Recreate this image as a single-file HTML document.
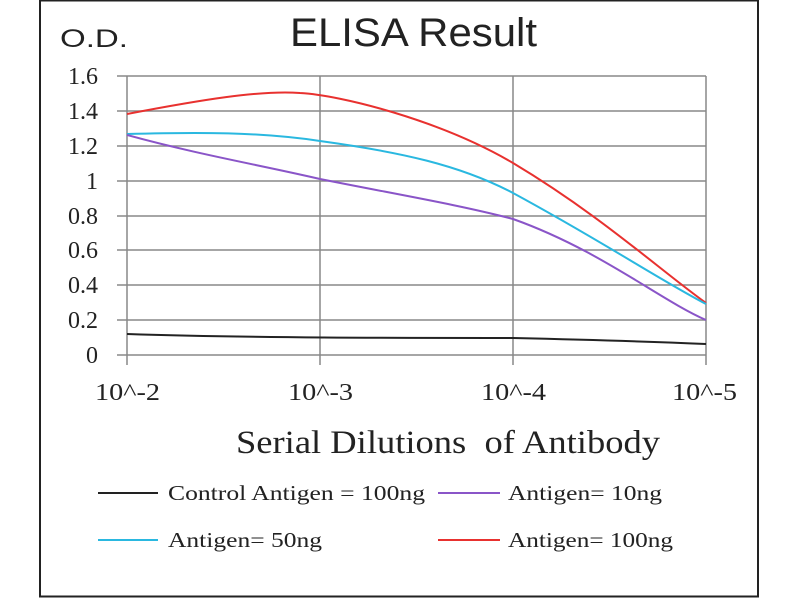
<!DOCTYPE html><html><head><style>body{margin:0;background:#fff}</style></head><body>
<svg width="800" height="600" xmlns="http://www.w3.org/2000/svg">
<rect x="40" y="0.5" width="718" height="596" fill="#fff" stroke="#222" stroke-width="2"/>
<g stroke="#888" stroke-width="1.5">
<line x1="117" y1="76" x2="706" y2="76"/><line x1="117" y1="111" x2="706" y2="111"/>
<line x1="117" y1="146" x2="706" y2="146"/><line x1="117" y1="181" x2="706" y2="181"/>
<line x1="117" y1="216" x2="706" y2="216"/><line x1="117" y1="250" x2="706" y2="250"/>
<line x1="117" y1="285" x2="706" y2="285"/><line x1="117" y1="320" x2="706" y2="320"/>
<line x1="117" y1="355" x2="706" y2="355"/>
<line x1="127" y1="76" x2="127" y2="365"/><line x1="320" y1="76" x2="320" y2="365"/>
<line x1="513" y1="76" x2="513" y2="365"/><line x1="706" y1="76" x2="706" y2="365"/>
</g>
<g fill="none" stroke-width="2">
<path d="M127,114 C200,100 260,90 300,93 C340,95 440,120 513,163 C600,215 660,270 706,303" stroke="#e8312f"/>
<path d="M127,134 C200,132 260,132 320,141 C400,152 460,165 513,193 C600,240 660,280 706,304" stroke="#2ab8e0"/>
<path d="M127,135 C200,155 260,165 320,179 C400,195 460,205 513,219 C600,250 660,300 706,320" stroke="#8a55c8"/>
<path d="M127,334 C250,338 400,338 513,338 C600,340 660,342 706,344" stroke="#222"/>
</g>
<g font-family="Liberation Serif,serif" font-size="24" fill="#222" text-anchor="end">
<text x="98" y="84">1.6</text><text x="98" y="119">1.4</text><text x="98" y="154">1.2</text>
<text x="98" y="189">1</text><text x="98" y="224">0.8</text><text x="98" y="258">0.6</text>
<text x="98" y="293">0.4</text><text x="98" y="328">0.2</text><text x="98" y="363">0</text>
</g>
<g font-family="Liberation Serif,serif" font-size="24" fill="#222" lengthAdjust="spacingAndGlyphs">
<text x="95" y="400" textLength="65" lengthAdjust="spacingAndGlyphs">10^-2</text>
<text x="288" y="400" textLength="65" lengthAdjust="spacingAndGlyphs">10^-3</text>
<text x="481" y="400" textLength="65" lengthAdjust="spacingAndGlyphs">10^-4</text>
<text x="672" y="400" textLength="65" lengthAdjust="spacingAndGlyphs">10^-5</text>
</g>
<text x="60" y="47" font-family="Liberation Sans,sans-serif" font-size="25" fill="#222" textLength="68" lengthAdjust="spacingAndGlyphs">O.D.</text>
<text x="290" y="46" font-family="Liberation Sans,sans-serif" font-size="40" fill="#222" textLength="247" lengthAdjust="spacingAndGlyphs">ELISA Result</text>
<text x="236" y="453" font-family="Liberation Serif,serif" font-size="33" fill="#222" textLength="424" lengthAdjust="spacingAndGlyphs" xml:space="preserve">Serial Dilutions  of Antibody</text>
<g stroke-width="2">
<line x1="98" y1="493" x2="158" y2="493" stroke="#222"/>
<line x1="438" y1="493" x2="500" y2="493" stroke="#8a55c8"/>
<line x1="98" y1="540" x2="158" y2="540" stroke="#2ab8e0"/>
<line x1="438" y1="540" x2="500" y2="540" stroke="#e8312f"/>
</g>
<g font-family="Liberation Serif,serif" font-size="21" fill="#222">
<text x="168" y="500" textLength="257" lengthAdjust="spacingAndGlyphs">Control Antigen = 100ng</text>
<text x="508" y="500" textLength="154" lengthAdjust="spacingAndGlyphs">Antigen= 10ng</text>
<text x="168" y="547" textLength="154" lengthAdjust="spacingAndGlyphs">Antigen= 50ng</text>
<text x="508" y="547" textLength="165" lengthAdjust="spacingAndGlyphs">Antigen= 100ng</text>
</g>
</svg>
</body></html>
